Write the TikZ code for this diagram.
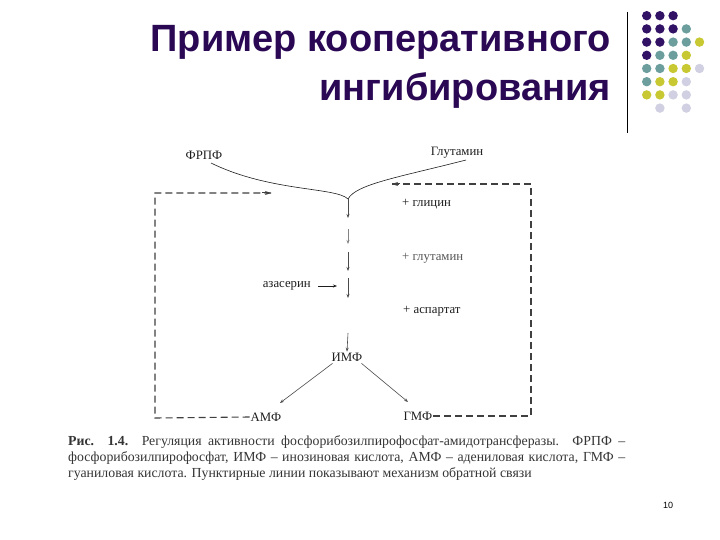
\documentclass[tikz,border=0pt]{standalone}
\usepackage{fontspec}
\setmainfont{Liberation Serif}
\newfontfamily\titlefont{Liberation Sans}
\newfontfamily\pgnumfont{Liberation Sans}
\usetikzlibrary{arrows.meta}
\definecolor{ttl}{RGB}{42,8,84}
\definecolor{dP}{RGB}{50,18,100}
\definecolor{dT}{RGB}{108,158,158}
\definecolor{dY}{RGB}{200,200,50}
\definecolor{dL}{RGB}{208,208,226}
\definecolor{ink}{RGB}{30,30,30}
\tikzset{
  lbl/.style={font=\fontsize{12.8}{14}\selectfont, text=ink, inner sep=1pt},
  flowline/.style={draw=ink, line width=0.6pt},
  stepline/.style={draw=ink!80, line width=0.6pt, -{Stealth[length=4pt,width=3pt]}},
  fb/.style={draw=ink!85, line width=1.1pt, dash pattern=on 7pt off 4pt},
  fbtip/.style={-{Stealth[length=6pt,width=4pt]}},
  capline/.style={font=\fontsize{13.8}{16}\selectfont, text=ink!90, inner sep=0, anchor=base west},
  dot/.style={radius=4.7}
}
\begin{document}
\begin{tikzpicture}[x=1pt,y=-1pt]
\useasboundingbox[fill=white] (0,0) rectangle (720,540);

% title
\node[anchor=base east, font=\titlefont\bfseries\fontsize{38}{38}\selectfont, text=ttl, inner sep=0] (t1) at (611,52) {Пример кооперативного};
\node[anchor=base east, font=\titlefont\bfseries\fontsize{38}{38}\selectfont, text=ttl, inner sep=0] (t2) at (611,101) {ингибирования};

% vertical rule
\draw[line width=1pt, black] (627,12) -- (627,133);

% dots
\foreach \c/\r/\col in {0/0/dP,1/0/dP,2/0/dP,
  0/1/dP,1/1/dP,2/1/dP,3/1/dT,
  0/2/dP,1/2/dP,2/2/dT,3/2/dT,4/2/dY,
  0/3/dP,1/3/dT,2/3/dT,3/3/dY,
  0/4/dT,1/4/dT,2/4/dY,3/4/dY,4/4/dL,
  0/5/dT,1/5/dY,2/5/dY,3/5/dL,
  0/6/dY,1/6/dY,2/6/dL,3/6/dL,
  1/7/dL,3/7/dL}
  \fill[\col] ({646.7+13.2*\c},{15.7+13.2*\r}) circle[dot];

% diagram labels
\node[lbl] (frpf) at (204,155) {ФРПФ};
\node[lbl] (glu) at (457,153) {Глутамин};
\node[lbl, anchor=west] (gly) at (401,204) {+ глицин};
\node[lbl, anchor=west, text=ink!75] (gln) at (401,258) {+ глутамин};
\node[lbl, anchor=west] (asp) at (402,311) {+ аспартат};
\node[lbl, anchor=east] (aza) at (312,286) {азасерин};
\node[lbl] (imf) at (347,357) {ИМФ};
\node[lbl] (amf) at (266,417) {АМФ};
\node[lbl] (gmf) at (418,416) {ГМФ};

% converging curves
\coordinate (m) at (348,199);
\coordinate (fs) at (211,163);
\coordinate (gs) at (466,160);
\draw[flowline] (fs) .. controls (270,192) and (336,187) .. (m);
\draw[flowline] (gs) .. controls (400,177) and (356,184) .. (m);

% step arrows
\coordinate (s1) at (348,218);
\coordinate (s2a) at (348,229); \coordinate (s2b) at (348,244);
\coordinate (s3a) at (348,252); \coordinate (s3b) at (348,271);
\coordinate (s4a) at (348,278); \coordinate (s4b) at (348,298);
\coordinate (s5a) at (348,333);
\draw[stepline] (m) -- (s1);
\draw[stepline, draw=ink!55] (s2a) -- (s2b);
\draw[stepline] (s3a) -- (s3b);
\draw[stepline] (s4a) -- (s4b);
\draw[stepline] (s5a) -- (imf.north);

% azaserine inhibition
\coordinate (azs) at (318,286);
\coordinate (azt) at (337,286);
\draw[flowline, -{Stealth[length=4pt,width=3pt]}] (azs) -- (azt);

% IMP branches
\coordinate (amft) at (280,403);
\coordinate (gmft) at (408,402);
\draw[stepline] (imf.south west) ++(2,1) -- (amft);
\draw[stepline] (imf.south east) ++(-2,1) -- (gmft);

% feedback loops
\coordinate (fl1) at (155,418);
\coordinate (fl2) at (155,193);
\coordinate (fl3) at (271,193);
\draw[fb] (amf.west) -- (fl1) -- (fl2) -- (fl3);
\draw[draw=ink!85, line width=1pt, fbtip] (262,193) -- (fl3);
\coordinate (fr1) at (531,416);
\coordinate (fr2) at (531,184);
\coordinate (fr3) at (392,184);
\draw[fb] (gmf.east) -- (fr1) -- (fr2) -- (fr3);
\draw[draw=ink!85, line width=1pt, fbtip] (400,184) -- (fr3);

% caption
\node[capline] (c1) at (68,445) {\makebox[557pt][s]{\textbf{Рис. 1.4.} Регуляция активности фосфорибозилпирофосфат-амидотрансферазы. ФРПФ –}};
\node[capline] (c2) at (68,461) {\makebox[557pt][s]{фосфорибозилпирофосфат, ИМФ – инозиновая кислота, АМФ – адениловая кислота, ГМФ –}};
\node[capline] (c3) at (68,477) {гуаниловая кислота. Пунктирные линии показывают механизм обратной связи};

% page number
\node[font=\pgnumfont\fontsize{9}{9}\selectfont, inner sep=0] (pg) at (668,505) {10};
\end{tikzpicture}
\end{document}
